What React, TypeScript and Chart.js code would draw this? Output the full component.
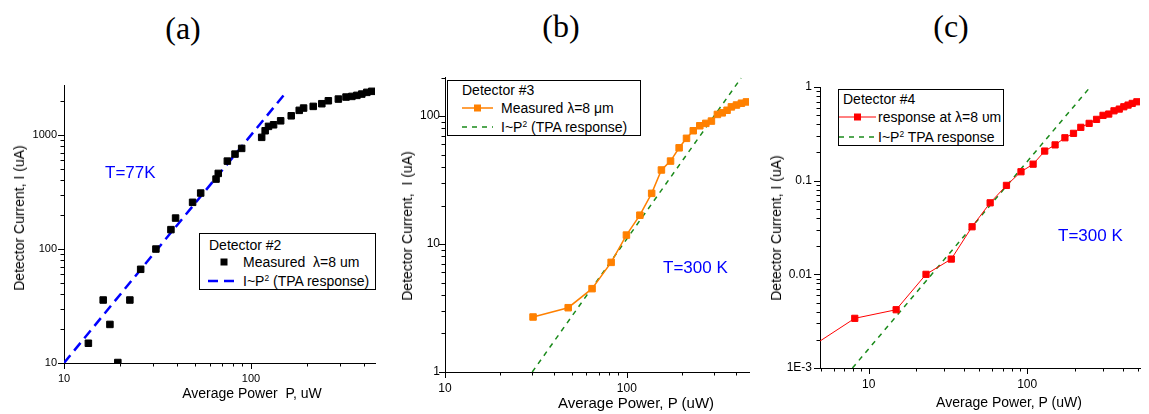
import React, { useEffect, useRef } from 'react';
import { Chart, registerables } from 'chart.js';
Chart.register(...registerables);

// ---------- Panel (a): Detector #2, T=77K ----------
const powerA = [13.5, 16.2, 17.6, 19.4, 22.5, 25.7, 31.0, 37.3, 39.5, 48.7, 53.8, 65.0, 66.8, 74.7, 82.1, 89.1, 114, 119, 124, 132, 144, 164, 181, 191, 215, 239, 259, 293, 322, 346, 368, 391, 416, 442];
const currentA = [14.9, 35.7, 21.8, 10.1, 35.7, 66.4, 100, 148, 187, 257, 310, 411, 461, 591, 681, 764, 955, 1091, 1192, 1231, 1334, 1476, 1648, 1726, 1785, 1884, 2000, 2070, 2156, 2184, 2230, 2290, 2370, 2420];
const tpaPowerA = [10, 154];
const tpaCurrentA = [10, 2372];

// ---------- Panel (b): Detector #3, T=300 K ----------
const powerB = [30.5, 47.6, 64.4, 82.0, 99.5, 118, 137, 155, 174, 194, 213, 232, 252, 272, 292, 315, 335, 356, 376, 401, 427, 455];
const currentB = [2.69, 3.18, 4.48, 7.19, 11.75, 16.8, 24.9, 37.9, 44.5, 56.5, 67, 76.8, 84, 87.7, 91.4, 103, 106, 111, 118, 122, 126, 129];
const tpaPowerB = [30.2, 425];
const tpaCurrentB = [1, 198];

// ---------- Panel (c): Detector #4, T=300 K ----------
const powerC = [4, 8.17, 14.9, 23.0, 33.2, 44.9, 58.4, 74.0, 91.4, 109, 129, 150, 173, 196, 218, 246, 274, 301, 327, 353, 381, 407, 433, 460, 492];
const currentC = [0.00154, 0.00339, 0.00419, 0.0100, 0.01455, 0.0322, 0.058, 0.089, 0.1245, 0.150, 0.207, 0.241, 0.287, 0.320, 0.371, 0.409, 0.451, 0.498, 0.514, 0.557, 0.581, 0.615, 0.641, 0.668, 0.695];
const tpaPowerC = [7.9, 250];
const tpaCurrentC = [0.001, 1];

// tick labels
const xTickValues = [10, 100];
const xTickLabels = ['10', '100'];
const yTickValuesA = [10, 100, 1000];
const yTickLabelsA = ['10', '100', '1000'];
const yTickValuesB = [1, 10, 100];
const yTickLabelsB = ['1', '10', '100'];
const yTickValuesC = [0.001, 0.01, 0.1, 1];
const yTickLabelsC = ['1E-3', '0.01', '0.1', '1'];

const SANS = '"Liberation Sans", Arial, sans-serif';
const SERIF = '"Liberation Serif", "Times New Roman", serif';

const toPts = (xs: number[], ys: number[]) => xs.map((x, i) => ({ x, y: ys[i] }));

const labelFor = (values: number[], labels: string[]) => (v: number) => {
  const i = values.findIndex((t) => Math.abs(t - v) / t < 1e-6);
  return i >= 0 ? labels[i] : '';
};

const logTicksPlugin = {
  id: 'logTicks',
  afterDraw(chart: any) {
    const ctx = chart.ctx;
    const area = chart.chartArea;
    ctx.save();
    ctx.strokeStyle = '#000';
    ctx.lineWidth = 1;
    const draw = (scale: any, horizontal: boolean) => {
      const lo = Math.floor(Math.log10(scale.min));
      const hi = Math.ceil(Math.log10(scale.max));
      for (let n = lo; n <= hi; n++) {
        for (let k = 1; k < 10; k++) {
          const v = k * Math.pow(10, n);
          if (v < scale.min * (1 - 1e-9) || v > scale.max * (1 + 1e-9)) continue;
          const p = Math.round(scale.getPixelForValue(v)) + 0.5;
          const len = k === 1 ? 6 : 3.5;
          ctx.beginPath();
          if (horizontal) {
            ctx.moveTo(p, area.bottom);
            ctx.lineTo(p, area.bottom + len);
          } else {
            ctx.moveTo(area.left, p);
            ctx.lineTo(area.left - len, p);
          }
          ctx.stroke();
        }
      }
    };
    draw(chart.scales.x, true);
    draw(chart.scales.y, false);
    ctx.restore();
  },
};

type PanelProps = {
  left: number; top: number; width: number; height: number;
  yAxisWidth: number; xAxisHeight: number; padTop: number; padRight: number;
  xMin: number; xMax: number; yMin: number; yMax: number;
  xLabelPad: number; yLabelPad: number; tickFont: number;
  yTickValues: number[]; yTickLabels: string[];
  datasets: any[];
};

function Panel(p: PanelProps) {
  const ref = useRef<HTMLCanvasElement>(null);
  useEffect(() => {
    if (!ref.current) return;
    const chart = new Chart(ref.current, {
      type: 'scatter',
      data: { datasets: p.datasets },
      plugins: [logTicksPlugin],
      options: {
        animation: false,
        responsive: false,
        devicePixelRatio: 1,
        layout: { padding: { top: p.padTop, right: p.padRight, left: 0, bottom: 0 } },
        plugins: { legend: { display: false }, tooltip: { enabled: false } },
        scales: {
          x: {
            type: 'logarithmic',
            min: p.xMin,
            max: p.xMax,
            border: { display: true, color: '#000', width: 1 },
            grid: { display: true, drawOnChartArea: false, drawTicks: false },
            ticks: {
              autoSkip: false,
              maxRotation: 0,
              minRotation: 0,
              padding: p.xLabelPad,
              color: '#000',
              font: { family: SANS, size: p.tickFont },
              callback: (v: any) => labelFor(xTickValues, xTickLabels)(Number(v)),
            },
            afterFit: (s: any) => { s.height = p.xAxisHeight; },
          },
          y: {
            type: 'logarithmic',
            min: p.yMin,
            max: p.yMax,
            border: { display: true, color: '#000', width: 1 },
            grid: { display: true, drawOnChartArea: false, drawTicks: false },
            ticks: {
              autoSkip: false,
              padding: p.yLabelPad,
              color: '#000',
              font: { family: SANS, size: p.tickFont },
              callback: (v: any) => labelFor(p.yTickValues, p.yTickLabels)(Number(v)),
            },
            afterFit: (s: any) => { s.width = p.yAxisWidth; },
          },
        },
      } as any,
    });
    return () => chart.destroy();
  }, []);
  return (
    <canvas
      ref={ref}
      width={p.width}
      height={p.height}
      style={{ position: 'absolute', left: p.left, top: p.top, width: p.width, height: p.height }}
    />
  );
}

const Text = ({ x, y, size, color = '#000', children, rotate = false, family = SANS, anchor = 'center' }: any) => (
  <div
    style={{
      position: 'absolute',
      left: x,
      top: y,
      transform: `translate(${anchor === 'left' ? '0' : '-50%'}, -50%)${rotate ? ' rotate(-90deg)' : ''}`,
      transformOrigin: rotate ? 'center' : undefined,
      fontFamily: family,
      fontSize: size,
      color,
      whiteSpace: 'pre',
      lineHeight: 1,
    }}
  >
    {children}
  </div>
);

const Sym = ({ x, y, w, color, marker, line, dash, lw = 1.5 }: any) => (
  <svg style={{ position: 'absolute', left: x, top: y - 6, overflow: 'visible' }} width={w} height={12}>
    {line && (
      <line x1={0} y1={6} x2={w} y2={6} stroke={color} strokeWidth={lw} strokeDasharray={dash} />
    )}
    {marker && <rect x={w / 2 - 3.5} y={2.5} width={7} height={7} fill={color} />}
  </svg>
);

const LegendBox = ({ x, y, w, h }: any) => (
  <div style={{ position: 'absolute', left: x, top: y, width: w, height: h, border: '1px solid #000', background: '#fff', boxSizing: 'border-box' }} />
);

const P2 = ({ tail }: any) => (
  <span>I~P<sup style={{ fontSize: '0.6em', verticalAlign: '0.6em', lineHeight: 0 }}>2</sup>{tail}</span>
);

export default function App() {
  const ORANGE = '#ff8000';
  const GREEN = '#1a8a1a';
  const RED = '#ff0000';
  const BLUE = '#0000ff';
  return (
    <div style={{ position: 'absolute', left: 0, top: 0, width: 1149, height: 414, background: '#fff', overflow: 'hidden' }}>
      {/* Panel (a) */}
      <Panel
        left={0} top={70} width={390} height={344}
        yAxisWidth={64} xAxisHeight={51} padTop={15} padRight={15}
        xMin={10} xMax={460} yMin={10} yMax={2750}
        xLabelPad={9} yLabelPad={7} tickFont={11}
        yTickValues={yTickValuesA} yTickLabels={yTickLabelsA}
        datasets={[
          {
            label: 'Measured λ=8 um',
            data: toPts(powerA, currentA),
            showLine: false,
            pointStyle: 'rect',
            pointRadius: 4.6,
            pointBackgroundColor: '#000',
            pointBorderColor: '#000',
            pointBorderWidth: 1,
            order: 0,
          },
          {
            label: 'I~P2 (TPA response)',
            data: toPts(tpaPowerA, tpaCurrentA),
            showLine: true,
            borderColor: BLUE,
            borderWidth: 2.5,
            borderDash: [10, 6],
            pointRadius: 0,
            order: 1,
          },
        ]}
      />
      {/* Panel (b) */}
      <Panel
        left={390} top={60} width={380} height={354}
        yAxisWidth={55} xAxisHeight={42} padTop={17} padRight={21}
        xMin={10} xMax={470} yMin={1} yMax={202}
        xLabelPad={9} yLabelPad={5} tickFont={12}
        yTickValues={yTickValuesB} yTickLabels={yTickLabelsB}
        datasets={[
          {
            label: 'Measured λ=8 μm',
            data: toPts(powerB, currentB),
            showLine: true,
            borderColor: ORANGE,
            borderWidth: 1.5,
            pointStyle: 'rect',
            pointRadius: 4.6,
            pointBackgroundColor: ORANGE,
            pointBorderColor: ORANGE,
            pointBorderWidth: 1,
            order: 0,
          },
          {
            label: 'I~P2 (TPA response)',
            data: toPts(tpaPowerB, tpaCurrentB),
            showLine: true,
            borderColor: GREEN,
            borderWidth: 1.5,
            borderDash: [5, 5],
            pointRadius: 0,
            order: 1,
          },
        ]}
      />
      {/* Panel (c) */}
      <Panel
        left={765} top={60} width={384} height={354}
        yAxisWidth={55} xAxisHeight={46} padTop={27} padRight={0}
        xMin={4.93} xMax={515} yMin={0.001} yMax={1}
        xLabelPad={9} yLabelPad={8} tickFont={12}
        yTickValues={yTickValuesC} yTickLabels={yTickLabelsC}
        datasets={[
          {
            label: 'response at λ=8 υm',
            data: toPts(powerC, currentC),
            showLine: true,
            borderColor: RED,
            borderWidth: 1,
            pointStyle: 'rect',
            pointRadius: 4.4,
            pointBackgroundColor: RED,
            pointBorderColor: RED,
            pointBorderWidth: 1,
            order: 0,
          },
          {
            label: 'I~P2 TPA response',
            data: toPts(tpaPowerC, tpaCurrentC),
            showLine: true,
            borderColor: GREEN,
            borderWidth: 1.5,
            borderDash: [5, 5],
            pointRadius: 0,
            order: 1,
          },
        ]}
      />

      {/* headings */}
      <Text x={183} y={28} size={32} family={SERIF}>(a)</Text>
      <Text x={561} y={26} size={32} family={SERIF}>(b)</Text>
      <Text x={951} y={26} size={32} family={SERIF}>(c)</Text>

      {/* axis titles */}
      <Text x={19} y={218} size={14} rotate>Detector Current, I (uA)</Text>
      <Text x={252} y={393} size={14}>Average Power  P, uW</Text>
      <Text x={407} y={226} size={14} rotate>Detector Current,  I (uA)</Text>
      <Text x={636} y={402} size={15}>Average Power, P (uW)</Text>
      <Text x={776} y={228} size={14} rotate>Detector Current, I (uA)</Text>
      <Text x={1009} y={402} size={14}>Average Power, P (uW)</Text>

      {/* temperature labels */}
      <Text x={105} y={172} size={17} color={BLUE} anchor="left">T=77K</Text>
      <Text x={663} y={267} size={17} color={BLUE} anchor="left">T=300 K</Text>
      <Text x={1058} y={235} size={17} color={BLUE} anchor="left">T=300 K</Text>

      {/* legend (a) */}
      <LegendBox x={199} y={233} w={177} h={57} />
      <Text x={209} y={245} size={14} anchor="left">Detector #2</Text>
      <Sym x={208} y={262} w={32} color="#000" marker />
      <Text x={243} y={262} size={14} anchor="left">{'Measured  λ=8 um'}</Text>
      <Sym x={208} y={281} w={28} color={BLUE} line dash="10 6" lw={2.5} />
      <Text x={243} y={281} size={14} anchor="left"><P2 tail=" (TPA response)" /></Text>

      {/* legend (b) */}
      <LegendBox x={447} y={80} w={194} h={56} />
      <Text x={462} y={90} size={14} anchor="left">Detector #3</Text>
      <Sym x={462} y={108} w={31} color={ORANGE} marker line lw={1.5} />
      <Text x={501} y={108} size={14} anchor="left">{'Measured λ=8 μm'}</Text>
      <Sym x={462} y={127} w={31} color={GREEN} line dash="5 5" lw={1.5} />
      <Text x={501} y={127} size={14} anchor="left"><P2 tail=" (TPA response)" /></Text>

      {/* legend (c) */}
      <LegendBox x={838} y={89} w={166} h={57} />
      <Text x={843} y={99} size={14} anchor="left">Detector #4</Text>
      <Sym x={839} y={117} w={37} color={RED} marker line lw={1} />
      <Text x={878} y={117} size={14} anchor="left">{'response at λ=8 υm'}</Text>
      <Sym x={839} y={137} w={37} color={GREEN} line dash="5 5" lw={1.5} />
      <Text x={878} y={137} size={14} anchor="left"><P2 tail=" TPA response" /></Text>
    </div>
  );
}
